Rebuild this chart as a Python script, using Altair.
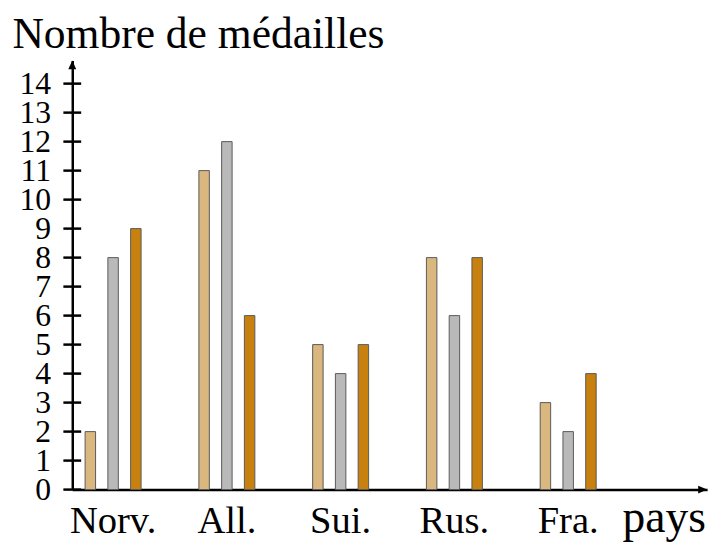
import altair as alt
import pandas as pd

pays = ["Norv.", "All.", "Sui.", "Rus.", "Fra."]
series = ["Bronze", "Argent", "Or"]
bronze = [2, 11, 5, 8, 3]
argent = [8, 12, 4, 6, 2]
or_ = [9, 6, 5, 8, 4]
colors = ["#D9B77E", "#B9B9B9", "#C8800F"]
y_ticks = list(range(15))

rows = []
for name, vals in zip(series, [bronze, argent, or_]):
    for p, v in zip(pays, vals):
        rows.append({"pays": p, "serie": name, "n": v})
df = pd.DataFrame(rows)
ticks_df = pd.DataFrame({"n": y_ticks})

W, H = 642, 434
FONT = "Liberation Serif"

y_axis = alt.Axis(
    values=y_ticks, title="Nombre de médailles", titleAngle=0,
    titleX=-61, titleY=-13, titleAlign="left", titleBaseline="alphabetic",
    titleFont=FONT, titleFontSize=44, titleFontWeight="normal",
    titleColor="black", labelFont=FONT, labelFontSize=32,
    labelColor="black", labelPadding=22, labelOverlap=False,
    labelBaseline="middle", ticks=False,
    domainColor="black", domainWidth=2.5, grid=False,
)
y_scale = alt.Scale(domain=[0, 14.8], nice=False)

bars = alt.Chart(df).mark_bar(stroke="#5a5a5a", strokeWidth=1).encode(
    x=alt.X(
        "pays:N", sort=pays,
        scale=alt.Scale(paddingInner=0.4, paddingOuter=0.49, align=0.06),
        axis=alt.Axis(
            title="pays", domain=True, domainColor="black", domainWidth=2.5,
            ticks=False, labelFont=FONT, labelFontSize=39, labelColor="black",
            labelPadding=43, labelBaseline="alphabetic", labelAngle=0,
            titleFont=FONT, titleFontSize=46, titleFontWeight="normal",
            titleColor="black", titleX=556, titleY=42, titleAlign="left",
            titleBaseline="alphabetic",
        ),
    ),
    xOffset=alt.XOffset("serie:N", sort=series,
                        scale=alt.Scale(paddingInner=0.54, paddingOuter=0.27)),
    y=alt.Y("n:Q", scale=y_scale, axis=y_axis),
    color=alt.Color("serie:N", scale=alt.Scale(domain=series, range=colors),
                    legend=None),
)

yticks = alt.Chart(ticks_df).mark_tick(
    orient="horizontal", size=18, thickness=2.5, color="black", opacity=1
).encode(x=alt.value(0), y=alt.Y("n:Q", scale=y_scale, axis=y_axis))

yarrow = alt.Chart(alt.Data(values=[{"a": 1}])).mark_point(
    shape="M0,0L-0.8,1.8L0.8,1.8Z", filled=True, color="black", size=100, opacity=1
).encode(x=alt.value(0), y=alt.value(0))

xarrow = alt.Chart(alt.Data(values=[{"a": 1}])).mark_point(
    shape="M0,0L-1.8,-0.8L-1.8,0.8Z", filled=True, color="black", size=100, opacity=1
).encode(x=alt.value(W), y=alt.value(H))

chart = alt.layer(bars, yticks, yarrow, xarrow).properties(
    width=W, height=H,
    autosize=alt.AutoSizeParams(type="none"),
    padding={"left": 65, "top": 50, "right": 10, "bottom": 52},
    background="white",
).configure_view(stroke=None)

chart.save("out.html", embed_options={"renderer": "svg", "actions": False})
